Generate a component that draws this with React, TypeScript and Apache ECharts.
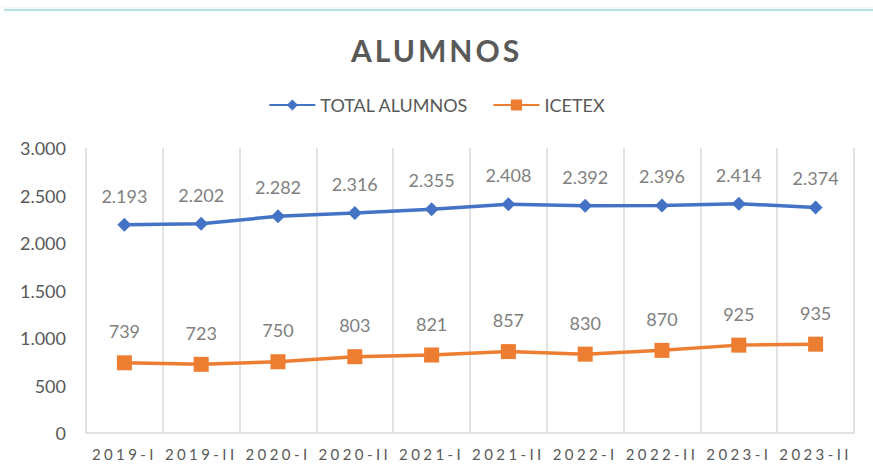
import React, { useEffect, useRef } from "react";
import * as echarts from "echarts";

const categories = ["2019-I", "2019-II", "2020-I", "2020-II", "2021-I", "2021-II", "2022-I", "2022-II", "2023-I", "2023-II"];
const totalAlumnos = [2193, 2202, 2282, 2316, 2355, 2408, 2392, 2396, 2414, 2374];
const icetex = [739, 723, 750, 803, 821, 857, 830, 870, 925, 935];
const seriesNames = ["TOTAL ALUMNOS", "ICETEX"];

const fmt = (v: number) => String(v).replace(/\B(?=(\d{3})+(?!\d))/g, ".");

const FONT = "Lato, 'Open Sans', sans-serif";
const XLABEL_COLOR = "#595958";
const TITLE_COLOR = "#595957";

export default function App() {
  const ref = useRef<HTMLDivElement>(null);
  useEffect(() => {
    document.body.style.margin = "0";
    const st = document.createElement("style");
    st.textContent =
      `svg text[fill="${XLABEL_COLOR}"]{letter-spacing:3.4px;}` +
      `svg text[fill="${TITLE_COLOR}"]{letter-spacing:3px;}`;
    document.head.appendChild(st);
    if (!ref.current) return;
    const chart = echarts.init(ref.current, undefined, { renderer: "svg" });
    chart.setOption({
      animation: false,
      backgroundColor: "#ffffff",
      textStyle: { fontFamily: FONT },
      title: {
        text: "ALUMNOS",
        left: "center",
        top: 30,
        textStyle: { fontSize: 30, fontWeight: "bold", color: TITLE_COLOR, fontFamily: FONT },
      },
      legend: {
        top: 91,
        left: "center",
        itemWidth: 46,
        itemHeight: 14,
        itemGap: 24,
        textStyle: { fontSize: 18, color: "#595959", fontFamily: FONT },
        data: seriesNames,
      },
      graphic: [
        {
          type: "rect",
          shape: { x: 4, y: 9, width: 869, height: 2 },
          style: { fill: "#b8e2e2", shadowBlur: 6, shadowColor: "rgba(150,200,200,0.6)", shadowOffsetY: -2 },
          silent: true,
        },
      ],
      grid: { left: 86, right: 19, top: 148, bottom: 40, containLabel: false },
      xAxis: {
        type: "category",
        data: categories,
        boundaryGap: true,
        axisLine: { lineStyle: { color: "#d9d9d9", width: 1.5 } },
        axisTick: { show: false },
        axisLabel: { color: XLABEL_COLOR, fontSize: 15, margin: 13, fontFamily: FONT, interval: 0 },
        splitLine: { show: true, lineStyle: { color: "#d9d9d9", width: 1.5 } },
      },
      yAxis: {
        type: "value",
        min: 0,
        max: 3000,
        interval: 500,
        axisLine: { show: false },
        axisTick: { show: false },
        splitLine: { show: false },
        axisLabel: { color: "#595959", fontSize: 18, margin: 20, fontFamily: FONT, formatter: (v: number) => fmt(v) },
      },
      series: [
        {
          name: seriesNames[0],
          type: "line",
          data: totalAlumnos,
          symbol: "diamond",
          symbolSize: 14,
          lineStyle: { color: "#4472C4", width: 3.5 },
          itemStyle: { color: "#4472C4" },
          label: {
            show: true,
            position: "top",
            distance: 13,
            color: "#7f7f7f",
            fontSize: 18,
            fontFamily: FONT,
            formatter: (p: any) => fmt(p.value),
          },
        },
        {
          name: seriesNames[1],
          type: "line",
          data: icetex,
          symbol: "rect",
          symbolSize: 15,
          lineStyle: { color: "#ED7D31", width: 3.5 },
          itemStyle: { color: "#ED7D31" },
          label: {
            show: true,
            position: "top",
            distance: 15,
            color: "#7f7f7f",
            fontSize: 18,
            fontFamily: FONT,
            formatter: (p: any) => fmt(p.value),
          },
        },
      ],
    });
    return () => {
      chart.dispose();
      st.remove();
    };
  }, []);
  return <div ref={ref} style={{ width: 873, height: 473 }} />;
}
